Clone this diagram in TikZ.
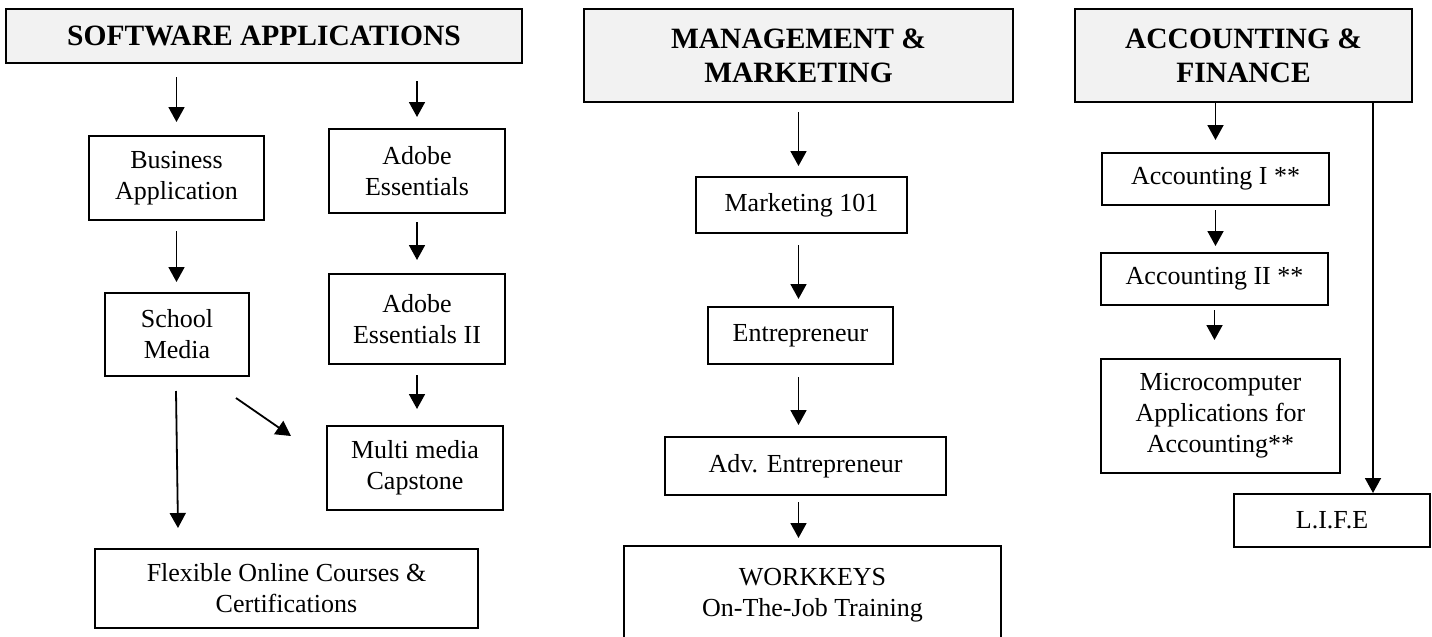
\documentclass[tikz,border=0pt]{standalone}
\usepackage{fontspec}
\setmainfont{Liberation Serif}
\usetikzlibrary{arrows.meta,calc}
\tikzset{
  course/.style={draw, line width=2pt, inner sep=0pt, align=center, font=\fontsize{26}{31}\selectfont},
  topic/.style={course, fill=black!5, font=\fontsize{29.5}{34}\selectfont\bfseries},
  arr/.style={-{Triangle[width=16pt,length=15pt]}, line width=1.8pt},
}
\begin{document}
\begin{tikzpicture}[x=1pt,y=-1pt]
\useasboundingbox (0,0) rectangle (1432,637);
\node[topic, minimum width=516, minimum height=54] (sw) at (264,36) {SOFTWARE APPLICATIONS};
\node[course, minimum width=175, minimum height=84] (busapp) at (176.5,178) {Business\\Application};
\node[course, minimum width=176, minimum height=84] (adobe1) at (417,171) {Adobe\\Essentials};
\node[course, minimum width=144, minimum height=83] (school) at (177,334.5) {School\\Media};
\node[course, minimum width=176, minimum height=90] (adobe2) at (417,319) {Adobe\\Essentials II};
\node[course, minimum width=176, minimum height=84] (capstone) at (415,468) {Multi media\\Capstone};
\node[course, minimum width=383, minimum height=79] (flex) at (286.5,588.5) {Flexible Online Courses \&\\Certifications};
\node[topic, minimum width=429, minimum height=93] (mgmt) at (798.5,55.5) {MANAGEMENT \&\\MARKETING};
\node[course, minimum width=211, minimum height=56] (mkt) at (801.5,205) {Marketing 101};
\node[course, minimum width=185, minimum height=57] (entre) at (800.5,335.5) {Entrepreneur};
\node[course, minimum width=281, minimum height=58] (adventre) at (805.5,466) {Adv. Entrepreneur};
\node[course, anchor=north, minimum width=377, inner ysep=22pt] (workkeys) at (812.5,545) {WORKKEYS\\On-The-Job Training};
\node[topic, minimum width=337, minimum height=93] (acct) at (1243.5,55.5) {ACCOUNTING \&\\FINANCE};
\node[course, minimum width=227, minimum height=52] (acc1) at (1215.5,179) {Accounting I **};
\node[course, minimum width=227, minimum height=52] (acc2) at (1214.5,279) {Accounting II **};
\node[course, minimum width=239, minimum height=114] (micro) at (1220.5,416) {Microcomputer\\Applications for\\Accounting**};
\node[course, minimum width=196, minimum height=53] (life) at (1332,520.5) {L.I.F.E};
\coordinate (lifein) at ($(life.north)+(41,0)$);
\draw[arr, shorten <=13pt, shorten >=13pt] (sw.south -| busapp.north) -- (busapp.north);
\draw[arr, shorten <=17pt, shorten >=11pt] (sw.south -| adobe1.north) -- (adobe1.north);
\draw[arr, shorten <=10pt, shorten >=10pt] (busapp.south) -- (busapp.south |- school.north);
\draw[arr, shorten <=8pt, shorten >=13pt] (adobe1.south) -- (adobe2.north);
\draw[arr, shorten <=10pt, shorten >=16pt] (adobe2.south) -- (adobe2.south |- capstone.north);
\draw[arr] ($(school.south east)+(-14,21)$) -- ($(capstone.north west)+(-35,11)$);
\draw[arr] ($(school.south)+(-1,14)$) -- ($(school.south |- flex.north)+(1,-20)$);
\draw[arr, shorten <=9pt, shorten >=10pt] (mgmt.south) -- (mgmt.south |- mkt.north);
\draw[arr, shorten <=11pt, shorten >=7pt] (mgmt.south |- mkt.south) -- (mgmt.south |- entre.north);
\draw[arr, shorten <=12pt, shorten >=11pt] (mgmt.south |- entre.south) -- (mgmt.south |- adventre.north);
\draw[arr, shorten <=6pt, shorten >=7pt] (mgmt.south |- adventre.south) -- (mgmt.south |- workkeys.north);
\draw[arr, shorten >=12pt] (acc1.north |- acct.south) -- (acc1.north);
\draw[arr, shorten <=4pt, shorten >=6pt] (acc1.south) -- (acc1.south |- acc2.north);
\draw[arr, shorten <=4pt, shorten >=18pt] (acc2.south) -- (acc2.south |- micro.north);
\draw[arr] (acct.south -| lifein) -- (lifein);
\end{tikzpicture}
\end{document}
